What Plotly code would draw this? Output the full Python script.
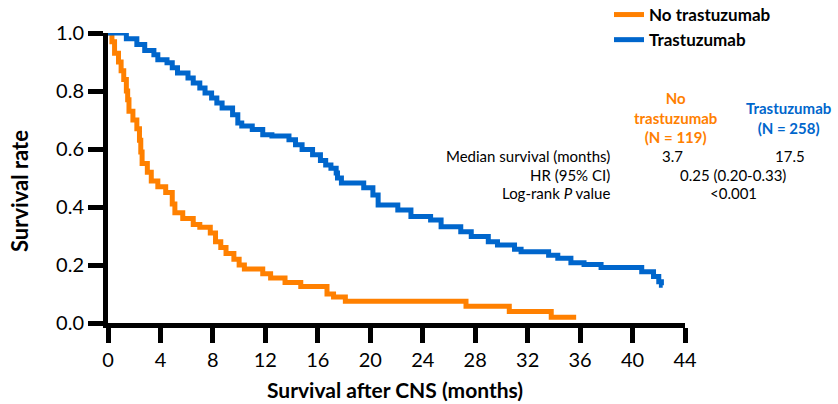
import plotly.graph_objects as go

# ---- data ----
no_trast_time = [0, 0.3, 0.5, 0.8, 1.0, 1.2, 1.4, 1.5, 1.6, 1.9, 2.2, 2.4, 2.5, 2.6, 3.0, 3.3, 3.8,
                 4.4, 4.9, 5.1, 5.7, 6.5, 7.0, 7.8, 8.2, 8.6, 9.0, 9.6, 10.0, 10.4, 11.8, 12.4,
                 13.5, 14.7, 16.7, 17.2, 18.1, 27.3, 30.6, 33.8, 35.7]
no_trast_surv = [1.0, 0.97, 0.93, 0.90, 0.87, 0.84, 0.80, 0.77, 0.73, 0.70, 0.67, 0.63, 0.59, 0.55,
                 0.52, 0.49, 0.47, 0.45, 0.41, 0.38, 0.36, 0.34, 0.33, 0.31, 0.28, 0.26, 0.24, 0.22,
                 0.20, 0.186, 0.17, 0.155, 0.14, 0.126, 0.10, 0.09, 0.075, 0.058, 0.04, 0.02, 0.02]

trast_time = [0, 1.4, 2.2, 2.8, 3.5, 3.8, 4.5, 4.9, 5.3, 6.1, 6.5, 7.0, 7.4, 7.9, 8.3, 8.7, 9.5,
              9.9, 10.2, 11.0, 11.8, 12.5, 13.8, 14.3, 14.8, 15.6, 16.2, 16.6, 17.0, 17.4, 17.5,
              17.8, 19.5, 20.2, 20.6, 22.1, 23.1, 24.6, 25.4, 26.9, 27.7, 29.0, 29.7, 31.0, 31.5,
              33.6, 34.3, 35.3, 36.3, 37.6, 40.7, 41.6, 42.0, 42.2, 42.3]
trast_surv = [1.0, 0.98, 0.96, 0.94, 0.925, 0.908, 0.897, 0.88, 0.862, 0.845, 0.828, 0.81, 0.793,
              0.776, 0.759, 0.741, 0.718, 0.69, 0.679, 0.667, 0.649, 0.645, 0.632, 0.615, 0.598,
              0.58, 0.56, 0.545, 0.534, 0.517, 0.50, 0.483, 0.466, 0.441, 0.407, 0.39, 0.367,
              0.355, 0.332, 0.315, 0.298, 0.28, 0.269, 0.254, 0.246, 0.234, 0.223, 0.208, 0.202,
              0.191, 0.177, 0.16, 0.142, 0.13, 0.13]

x_ticks = [0, 4, 8, 12, 16, 20, 24, 28, 32, 36, 40, 44]
y_ticks = [0.0, 0.2, 0.4, 0.6, 0.8, 1.0]
y_tick_labels = ["0.0", "0.2", "0.4", "0.6", "0.8", "1.0"]

series_names = ["No trastuzumab", "Trastuzumab"]
group_headers = ["No<br>trastuzumab<br>(N = 119)", "Trastuzumab<br>(N = 258)"]
row_labels = ["Median survival (months)", "HR (95% CI)", "Log-rank <i>P</i> value"]
median_values = ["3.7", "17.5"]
hr_text = "0.25 (0.20-0.33)"
p_text = "<0.001"
x_title = "Survival after CNS (months)"
y_title = "Survival rate"

ORANGE = "#FF8000"
BLUE = "#0066CC"
FONT = "Lato"

W, H = 838, 404
L, R, T, B = 108, 153, 33, 81
PW, PH = W - L - R, H - T - B


def px(x):
    return (x - L) / PW


def py(y):
    return (H - B - y) / PH


fig = go.Figure()
fig.add_trace(go.Scatter(x=no_trast_time, y=no_trast_surv, mode="lines", line_shape="hv",
                         line=dict(color=ORANGE, width=5), name="<b>" + series_names[0] + "</b>"))
fig.add_trace(go.Scatter(x=trast_time, y=trast_surv, mode="lines", line_shape="hv",
                         line=dict(color=BLUE, width=5), name="<b>" + series_names[1] + "</b>"))

TS = 15
ann = []
ann.append(dict(x=px(675), y=py(117), text="<b>" + group_headers[0] + "</b>", font=dict(color=ORANGE, size=TS)))
ann.append(dict(x=px(788), y=py(118), text="<b>" + group_headers[1] + "</b>", font=dict(color=BLUE, size=TS)))
rows_y = [156, 174.5, 193]
for lab, yy in zip(row_labels, rows_y):
    ann.append(dict(x=px(612), y=py(yy), text=lab, xanchor="right", font=dict(size=TS, color="black")))
ann.append(dict(x=px(672), y=py(rows_y[0]), text=median_values[0], font=dict(size=TS, color="black")))
ann.append(dict(x=px(790), y=py(rows_y[0]), text=median_values[1], font=dict(size=TS, color="black")))
ann.append(dict(x=px(733), y=py(rows_y[1]), text=hr_text, font=dict(size=TS, color="black")))
ann.append(dict(x=px(733), y=py(rows_y[2]), text=p_text.replace("<", "&lt;"), font=dict(size=TS, color="black")))
# axis titles
ann.append(dict(x=px(394.5), y=py(389), text="<b>" + x_title + "</b>", font=dict(size=21, color="black")))
ann.append(dict(x=px(19), y=py(191), text="<b>" + y_title + "</b>", textangle=-90,
                font=dict(size=22, color="black")))
for a in ann:
    a.update(xref="paper", yref="paper", showarrow=False, yanchor="middle")
    a.setdefault("xanchor", "center")

fig.update_layout(
    width=W, height=H,
    margin=dict(l=L, r=R, t=T, b=B, pad=0, autoexpand=False),
    paper_bgcolor="white", plot_bgcolor="white",
    font=dict(family=FONT, color="black"),
    annotations=ann,
    showlegend=True,
    legend=dict(x=px(609), y=py(-3), xanchor="left", yanchor="top",
                font=dict(size=17, color="black", family=FONT), bgcolor="rgba(0,0,0,0)",
                itemwidth=30, tracegroupgap=0),
    xaxis=dict(range=[0, 44], tickmode="array", tickvals=x_ticks, showgrid=False, zeroline=False,
               showline=True, linecolor="black", linewidth=5, ticks="outside", ticklen=15,
               tickwidth=5, tickcolor="black", tickfont=dict(size=20, color="black")),
    yaxis=dict(range=[0, 1.0], tickmode="array", tickvals=y_ticks, ticktext=y_tick_labels,
               showgrid=False, zeroline=False, showline=True, linecolor="black", linewidth=5,
               ticks="outside", ticklen=15, tickwidth=5, tickcolor="black",
               tickfont=dict(size=20, color="black")),
)
for tr in fig.data:
    tr.update(cliponaxis=False)

fig.write_html("out.html", config={"displayModeBar": False})
